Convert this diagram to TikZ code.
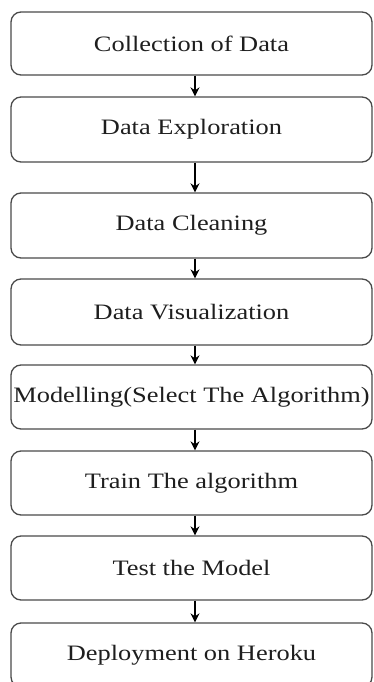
\documentclass[tikz,border=0pt]{standalone}
\usepackage{fontspec}
\setmainfont{Liberation Serif}
\usetikzlibrary{arrows.meta}
\definecolor{edge}{HTML}{4A4A4A}
\definecolor{txt}{HTML}{1E1E1E}
\tikzset{
  stepbox/.style={draw=edge, line width=1.3pt, rounded corners=10pt, minimum width=361pt, minimum height=64pt, inner sep=0pt, text=txt, font=\fontsize{22}{24}\selectfont},
  flow/.style={draw=black, line width=1.3pt, -{Stealth[length=9pt,width=9pt]}}
}
\newcommand{\wide}[1]{\scalebox{1.2}[1]{#1}}
\begin{document}
\begin{tikzpicture}[x=1pt,y=-1pt]
\useasboundingbox (0,0) rectangle (374,682);
\clip (0,0) rectangle (374,682);
\node[stepbox, minimum height=63pt] (n1) at (191.5,43.5) {\wide{Collection of Data}};
\node[stepbox, minimum height=65pt] (n2) at (191.5,129.5) {\wide{Data Exploration}};
\node[stepbox, minimum height=65pt] (n3) at (191.5,225.5) {\wide{Data Cleaning}};
\node[stepbox, minimum height=66pt] (n4) at (191.5,312) {\wide{Data Visualization}};
\node[stepbox, minimum height=64pt] (n5) at (191.5,397) {\wide{Modelling(Select The Algorithm)}};
\node[stepbox, minimum height=64pt] (n6) at (191.5,483) {\wide{Train The algorithm}};
\node[stepbox, minimum height=64pt] (n7) at (191.5,568) {\wide{Test the Model}};
\node[stepbox, minimum height=64pt] (n8) at (191.5,655) {\wide{Deployment on Heroku}};
\foreach \a/\b in {n1/n2,n2/n3,n3/n4,n4/n5,n5/n6,n6/n7,n7/n8}
  \draw[flow] ([xshift=3.5pt]\a.south) -- ([xshift=3.5pt]\b.north);
\end{tikzpicture}
\end{document}
